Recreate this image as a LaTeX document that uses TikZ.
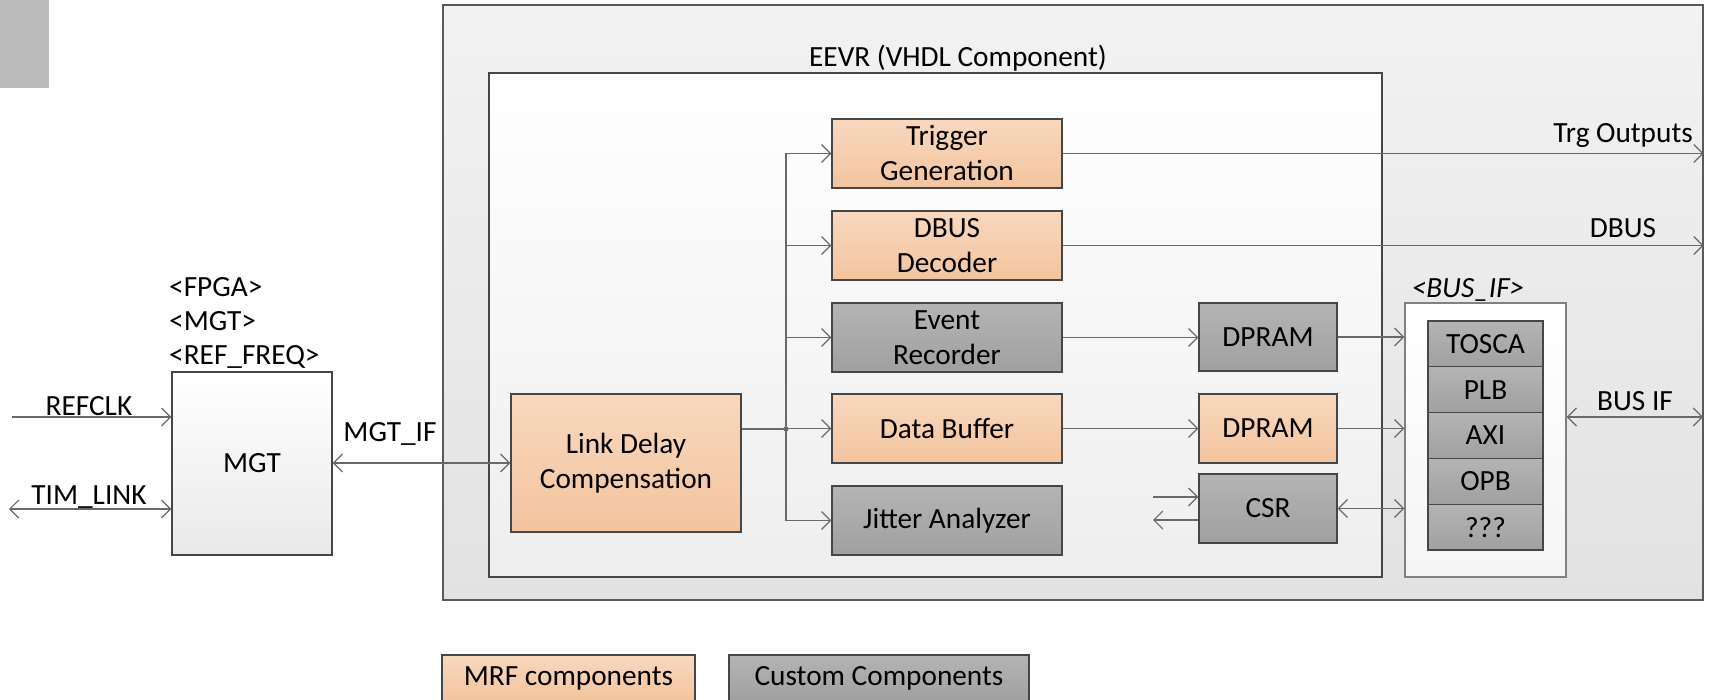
\documentclass[tikz,border=0pt]{standalone}
\usepackage{fontspec}
\setmainfont{Carlito}
\usetikzlibrary{arrows.meta}
\definecolor{orT}{RGB}{248,216,190}
\definecolor{orB}{RGB}{243,196,158}
\definecolor{grT}{RGB}{180,180,180}
\definecolor{grB}{RGB}{160,160,160}
\definecolor{boxline}{RGB}{70,70,70}
\definecolor{lineC}{RGB}{105,105,105}
\definecolor{outT}{RGB}{242,242,242}
\definecolor{outB}{RGB}{226,226,226}
\definecolor{innB}{RGB}{238,238,238}
\definecolor{sqC}{RGB}{187,187,187}
\begin{document}
\begin{tikzpicture}[x=1pt,y=-1pt,
  font=\fontsize{29.3}{35}\selectfont,
  box/.style={draw=boxline, line width=1.3pt, minimum width=230pt, minimum height=69pt, align=center, inner sep=0pt},
  mrf/.style={box, top color=orT, bottom color=orB},
  cust/.style={box, top color=grT, bottom color=grB},
  lbl/.style={inner sep=0pt},
  conn/.style={draw=lineC, line width=1.2pt},
  arr/.style={conn, -{Straight Barb[length=9pt,width=18pt]}},
  darr/.style={conn, {Straight Barb[length=9pt,width=18pt]}-{Straight Barb[length=9pt,width=18pt]}}]
\clip (0,0) rectangle (1711,700);
\fill[white] (0,0) rectangle (1711,700);
\node[fill=sqC, minimum width=49pt, minimum height=88pt, anchor=north west, inner sep=0pt] (corner) at (0,0) {};
% containers
\node[draw=boxline!90, line width=1.3pt, top color=outT, bottom color=outB, minimum width=1260pt, minimum height=595pt, inner sep=0pt] (fpga) at (1073,302.5) {};
\node[draw=boxline, line width=1.3pt, top color=white, bottom color=innB, minimum width=893pt, minimum height=504pt, inner sep=0pt] (eevr) at (935.5,325) {};
\node[draw=gray, line width=1.3pt, top color=white, bottom color=white!96!black, minimum width=161pt, minimum height=274pt, inner sep=0pt] (busif) at (1485.5,440) {};
\node[lbl] (eevrlbl) at (958,58) {EEVR (VHDL Component)};
\node[lbl] (buslbl) at (1468,290) {\itshape <BUS\_IF>};
% MGT
\node[box, top color=white, bottom color=innB!98!black, minimum width=160pt, minimum height=183pt] (mgt) at (252,463.5) {MGT};
\node[lbl, anchor=west] (fpgal) at (169,287) {<FPGA>};
\node[lbl, anchor=west] (mgtl) at (169,321) {<MGT>};
\node[lbl, anchor=west] (refl) at (169,357) {<REF\_FREQ>};
% blocks
\node[mrf, minimum height=138pt] (ldc) at (626,463) {Link Delay\\Compensation};
\node[mrf] (trg) at (947,153.5) {Trigger\\Generation};
\node[mrf] (dbus) at (947,245.5) {DBUS\\Decoder};
\node[cust] (evr) at (947,337.5) {Event\\Recorder};
\node[mrf] (dbuf) at (947,428.5) {Data Buffer};
\node[cust] (jit) at (947,520.5) {Jitter Analyzer};
\node[cust, minimum width=138pt, minimum height=68pt] (dpr1) at (1268,337) {DPRAM};
\node[mrf, minimum width=138pt] (dpr2) at (1268,428.5) {DPRAM};
\node[cust, minimum width=138pt] (csr) at (1268,508.5) {CSR};
% bus stack
\node[cust, minimum width=115pt, minimum height=45.8pt] (tosca) at (1485.5,343.9) {TOSCA};
\node[cust, minimum width=115pt, minimum height=45.8pt] (plb) at (1485.5,389.7) {PLB};
\node[cust, minimum width=115pt, minimum height=45.8pt] (axi) at (1485.5,435.5) {AXI};
\node[cust, minimum width=115pt, minimum height=45.8pt] (opb) at (1485.5,481.3) {OPB};
\node[cust, minimum width=115pt, minimum height=45.8pt] (qqq) at (1485.5,527.1) {???};
% left side connectors
\coordinate (refin) at (12,417);
\coordinate (timl) at (9,509);
\draw[arr] (refin) -- (refin -| mgt.west);
\draw[darr] (timl) -- (timl -| mgt.west);
\node[lbl] (refclkl) at (89,406) {REFCLK};
\node[lbl] (timlinkl) at (89,497) {TIM\_LINK};
\draw[darr] (mgt.east |- ldc.west) -- (ldc.west);
\node[lbl] (mgtifl) at (390,434) {MGT\_IF};
% branch
\coordinate (br) at (786,429);
\draw[conn] (ldc.east |- br) -- (br);
\draw[conn] (br |- trg.west) -- (br |- jit.west);
\fill[lineC] (br) circle (2.5);
\draw[arr] (br |- trg.west) -- (trg.west);
\draw[arr] (br |- dbus.west) -- (dbus.west);
\draw[arr] (br |- evr.west) -- (evr.west);
\draw[arr] (br |- dbuf.west) -- (dbuf.west);
\draw[arr] (br |- jit.west) -- (jit.west);
% middle
\draw[arr] (evr.east) -- (evr.east -| dpr1.west);
\draw[arr] (dbuf.east) -- (dpr2.west);
\draw[arr] (dpr1.east) -- (dpr1.east -| busif.west);
\draw[arr] (dpr2.east) -- (dpr2.east -| busif.west);
\draw[darr] (csr.east) -- (csr.east -| busif.west);
\coordinate (csrin) at (1153,497);
\coordinate (csrout) at (1153,520);
\draw[arr] (csrin) -- (csrin -| csr.west);
\draw[arr] (csrout -| csr.west) -- (csrout);
% outputs
\draw[arr] (trg.east) -- (trg.east -| fpga.east);
\draw[arr] (dbus.east) -- (dbus.east -| fpga.east);
\node[lbl, anchor=east] (trgl) at (1693,136) {Trg Outputs};
\node[lbl] (dbusl) at (1623,228) {DBUS};
\coordinate (busio) at (1703,417);
\draw[darr] (busio -| busif.east) -- (busio);
\node[lbl] (busifl) at (1635,401) {BUS IF};
% legend
\node[mrf, minimum width=253pt, minimum height=46pt] (legm) at (568.5,678) {MRF components};
\node[cust, minimum width=300pt, minimum height=46pt] (legc) at (879,678) {Custom Components};
\end{tikzpicture}
\end{document}
